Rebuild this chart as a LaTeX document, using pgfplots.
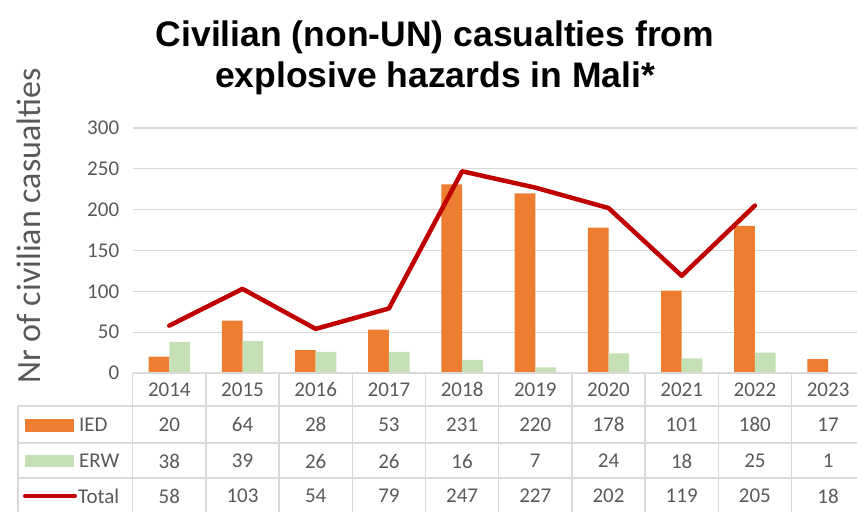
\documentclass[border=0pt]{standalone}
\usepackage{pgfplots}
\pgfplotsset{compat=1.18}
\usepackage{fontspec}
\setmainfont{Carlito}
\newfontfamily\titlefont{Liberation Sans}
\definecolor{ied}{HTML}{ED7D31}
\definecolor{erw}{HTML}{C5E0B4}
\definecolor{tot}{HTML}{C00000}
\definecolor{txt}{HTML}{595959}
\definecolor{grd}{HTML}{D9D9D9}
\begin{document}
\begin{tikzpicture}[x=1pt,y=1pt]
\useasboundingbox (0,0) rectangle (857,512);
\begin{axis}[at={(132.7pt,139pt)}, anchor=south west, scale only axis,
  width=732pt, height=245pt,
  xmin=-0.5, xmax=9.5, ymin=0, ymax=300, ytick={0,50,...,300}, xtick=\empty,
  ymajorgrids, grid style={grd, line width=1.2pt},
  axis line style={draw=none}, major tick style={draw=none},
  yticklabel style={font=\fontsize{21}{25}\selectfont, text=txt, xshift=-10pt},
  /pgf/number format/assume math mode=true,
  clip=false]
\addplot[ybar, bar width=20.7pt, bar shift=-10.35pt, fill=ied, draw=none] coordinates {
 (0,20) (1,64) (2,28) (3,53) (4,231) (5,220) (6,178) (7,101) (8,180) (9,17)};
\addplot[ybar, bar width=20.7pt, bar shift=10.35pt, fill=erw, draw=none] coordinates {
 (0,38) (1,39) (2,26) (3,26) (4,16) (5,7) (6,24) (7,18) (8,25) (9,1)};
\addplot[sharp plot, tot, line width=4.5pt, line join=round, line cap=round, mark=none] coordinates {
 (0,58) (1,103) (2,54) (3,79) (4,247) (5,227) (6,202) (7,119) (8,205)};
\end{axis}
% table grid
\begin{scope}[grd, line width=1.3pt]
\draw (132.7,139) -- (870,139);
\draw (18,106) -- (870,106);
\draw (18,69) -- (870,69);
\draw (18,34) -- (870,34);
\draw (18,106) -- (18,0);
\foreach \k in {0,...,10} { \draw ({132.7+73.2*\k},139) -- ({132.7+73.2*\k},0); }
\end{scope}
% table text
\begin{scope}[font=\fontsize{21}{25}\selectfont, text=txt]
\foreach \v [count=\i from 0] in {2014,2015,2016,2017,2018,2019,2020,2021,2022,2023}
  \node at ({169.3+73.2*\i},122.5) {\v};
\foreach \v [count=\i from 0] in {20,64,28,53,231,220,178,101,180,17}
  \node at ({169.3+73.2*\i},87.5) {\v};
\foreach \v [count=\i from 0] in {38,39,26,26,16,7,24,18,25,1}
  \node at ({169.3+73.2*\i},51) {\v};
\foreach \v [count=\i from 0] in {58,103,54,79,247,227,202,119,205,18}
  \node at ({169.3+73.2*\i},16) {\v};
\node[anchor=west, inner sep=0pt] at (79,87.5) {IED};
\node[anchor=west, inner sep=0pt] at (79,51) {ERW};
\node[anchor=west, inner sep=0pt] at (78,16) {Total};
\end{scope}
\fill[ied] (25,80) rectangle (74,93);
\fill[erw] (25,45) rectangle (74,57);
\draw[tot, line width=4pt, line cap=round] (25,16) -- (75,16);
% y label
\node[rotate=90, font=\fontsize{34}{40}\selectfont, text=txt] at (29,286) {Nr of civilian casualties};
% title
\node[font=\titlefont\bfseries\fontsize{35.5}{41}\selectfont, align=center] at (435,454) {Civilian (non-UN) casualties from\\explosive hazards in Mali*};
\end{tikzpicture}
\end{document}
